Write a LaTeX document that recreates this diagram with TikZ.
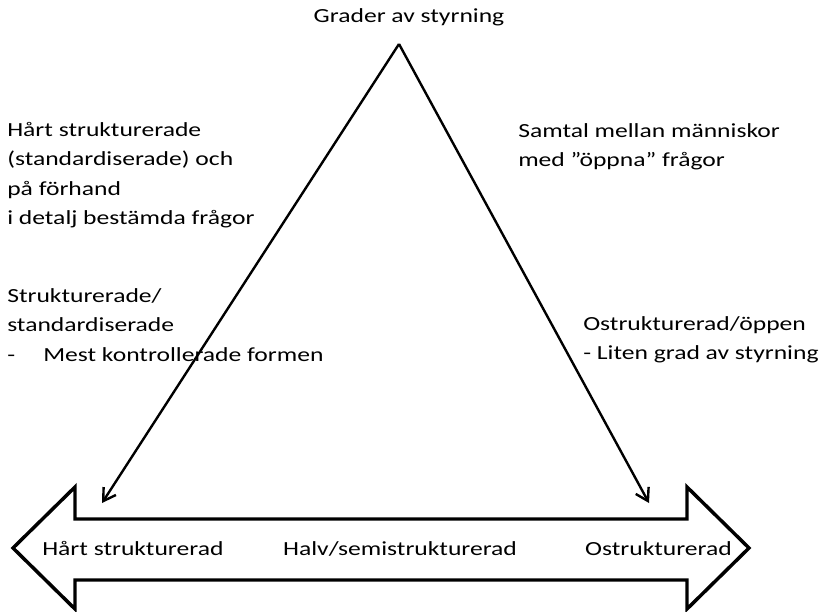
\documentclass[tikz,border=0pt]{standalone}
\usepackage{fontspec}
\setmainfont{Carlito}[FakeStretch=1.28]
\usetikzlibrary{arrows.meta}

\begin{document}
\begin{tikzpicture}[x=0.75pt, y=-0.75pt,
        txt/.style={font=\fontsize{15}{22}\selectfont, inner sep=0pt, align=left},
        side/.style={line width=1.8pt, -{Straight Barb[length=9pt,width=11pt,line width=1.8pt]}}]
    \useasboundingbox (0,0) rectangle (825,611);

    % double arrow at the bottom
    \draw[line width=2.6pt] (13,548) -- (75,487) -- (75,519) -- (687,519) -- (687,487) -- (749,548)
        -- (687,609) -- (687,580) -- (75,580) -- (75,609) -- cycle;

    \coordinate (apex) at (399,44);
    \coordinate (hard) at (102,503);
    \coordinate (open) at (649,503);
    \draw[side] (apex) -- (hard);
    \draw[side] (apex) -- (open);

    \node[txt] (title) at (409,17) {Grader av styrning};

    \node[txt, anchor=west] (hardq) at (7,175) {Hårt strukturerade\\(standardiserade) och\\på förhand\\i detalj bestämda frågor};
    \node[txt, anchor=west] (struct) at (7,325) {Strukturerade/\\standardiserade\\\makebox[1.8em][l]{-}Mest kontrollerade formen};

    \node[txt, anchor=west] (talk) at (518,147) {Samtal mellan människor\\med ”öppna” frågor};
    \node[txt, anchor=west] (unstruct) at (583,340) {Ostrukturerad/öppen\\- Liten grad av styrning};

    \node[txt, anchor=base west] (left) at (42,555) {Hårt strukturerad};
    \node[txt, anchor=base] (mid) at (400,555) {Halv/semistrukturerad};
    \node[txt, anchor=base east] (right) at (732,555) {Ostrukturerad};
\end{tikzpicture}
\end{document}
